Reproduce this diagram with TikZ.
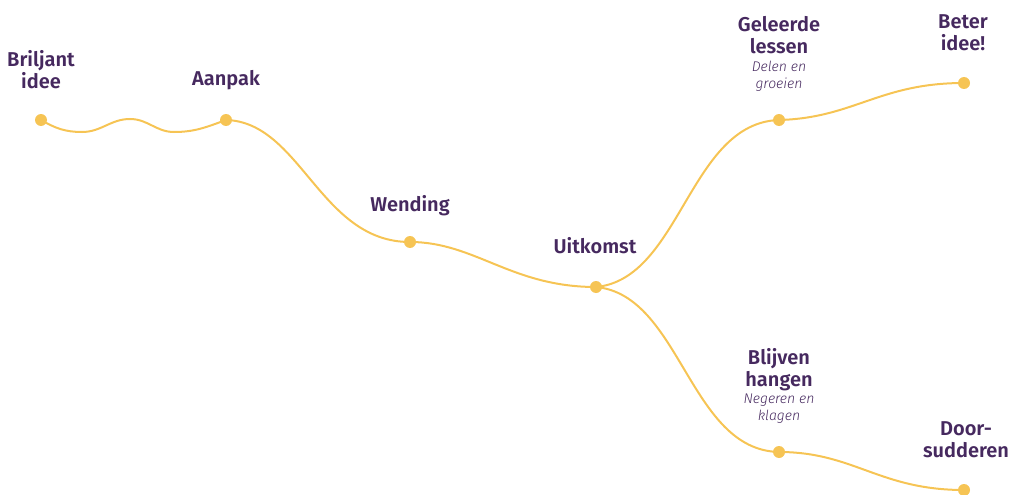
\documentclass[tikz,border=0pt]{standalone}
\usepackage{fontspec}
\setmainfont{Fira Sans}[BoldFont={Fira Sans SemiBold},ItalicFont={Fira Sans Light Italic}]
\usetikzlibrary{backgrounds}
\definecolor{road}{HTML}{F6C454}
\definecolor{ink}{HTML}{46295F}
\tikzset{
  dot/.style={circle,fill=road,minimum size=12pt,inner sep=0pt},
  road/.style={draw=road,line width=2pt},
  lbl/.style={text=ink,font=\fontsize{20}{22}\selectfont\bfseries,align=center,inner sep=0pt},
  sub/.style={text=ink,font=\fontsize{14}{17}\selectfont\itshape,align=center,inner sep=0pt}
}
\begin{document}
\begin{tikzpicture}[x=1pt,y=-1pt]
\useasboundingbox (0,0) rectangle (1010,495);
% dots
\node[dot] (d1) at (41,120) {};
\node[dot] (d2) at (226,120) {};
\node[dot] (d3) at (410,242) {};
\node[dot] (d4) at (596,287) {};
\node[dot] (d5) at (779,120) {};
\node[dot] (d6) at (964,83) {};
\node[dot] (d7) at (779,452) {};
\node[dot] (d8) at (964,490) {};
\coordinate (w1) at (82,132);
\coordinate (w2) at (130,119);
\coordinate (w3) at (174,132);
% labels
\node[lbl] (t1) at (41,70) {Briljant\\idee};
\node[lbl] (t2) at (226,80) {Aanpak};
\node[lbl] (t3) at (410,206) {Wending};
\node[lbl] (t4) at (595,246) {Uitkomst};
\node[lbl] (t5) at (779,35) {Geleerde\\lessen};
\node[sub] (s5) at (779,76) {Delen en\\groeien};
\node[lbl] (t6) at (963,33) {Beter\\idee!};
\node[lbl] (t7) at (779,370) {Blijven\\hangen};
\node[sub] (s7) at (779,409) {Negeren en\\klagen};
\node[lbl] (t8) at (966,440) {Door-\\sudderen};
% roads
\begin{scope}[on background layer]
\draw[road] (d1.center) to[out=-30,in=180] (w1) to[out=0,in=180] (w2) to[out=0,in=180] (w3) to[out=0,in=200] (d2.center);
\draw[road] (d2.center) .. controls +(75,2) and +(-90,0) .. (d3.center);
\draw[road] (d3.center) .. controls +(65,0) and +(-85,0) .. (d4.center);
\draw[road] (d4.center) .. controls +(85,-8) and +(-90,3) .. (d5.center);
\draw[road] (d5.center) .. controls +(75,-2) and +(-85,0) .. (d6.center);
\draw[road] (d4.center) .. controls +(85,8) and +(-90,-2) .. (d7.center);
\draw[road] (d7.center) .. controls +(75,0) and +(-85,0) .. (d8.center);
\end{scope}
\end{tikzpicture}
\end{document}
